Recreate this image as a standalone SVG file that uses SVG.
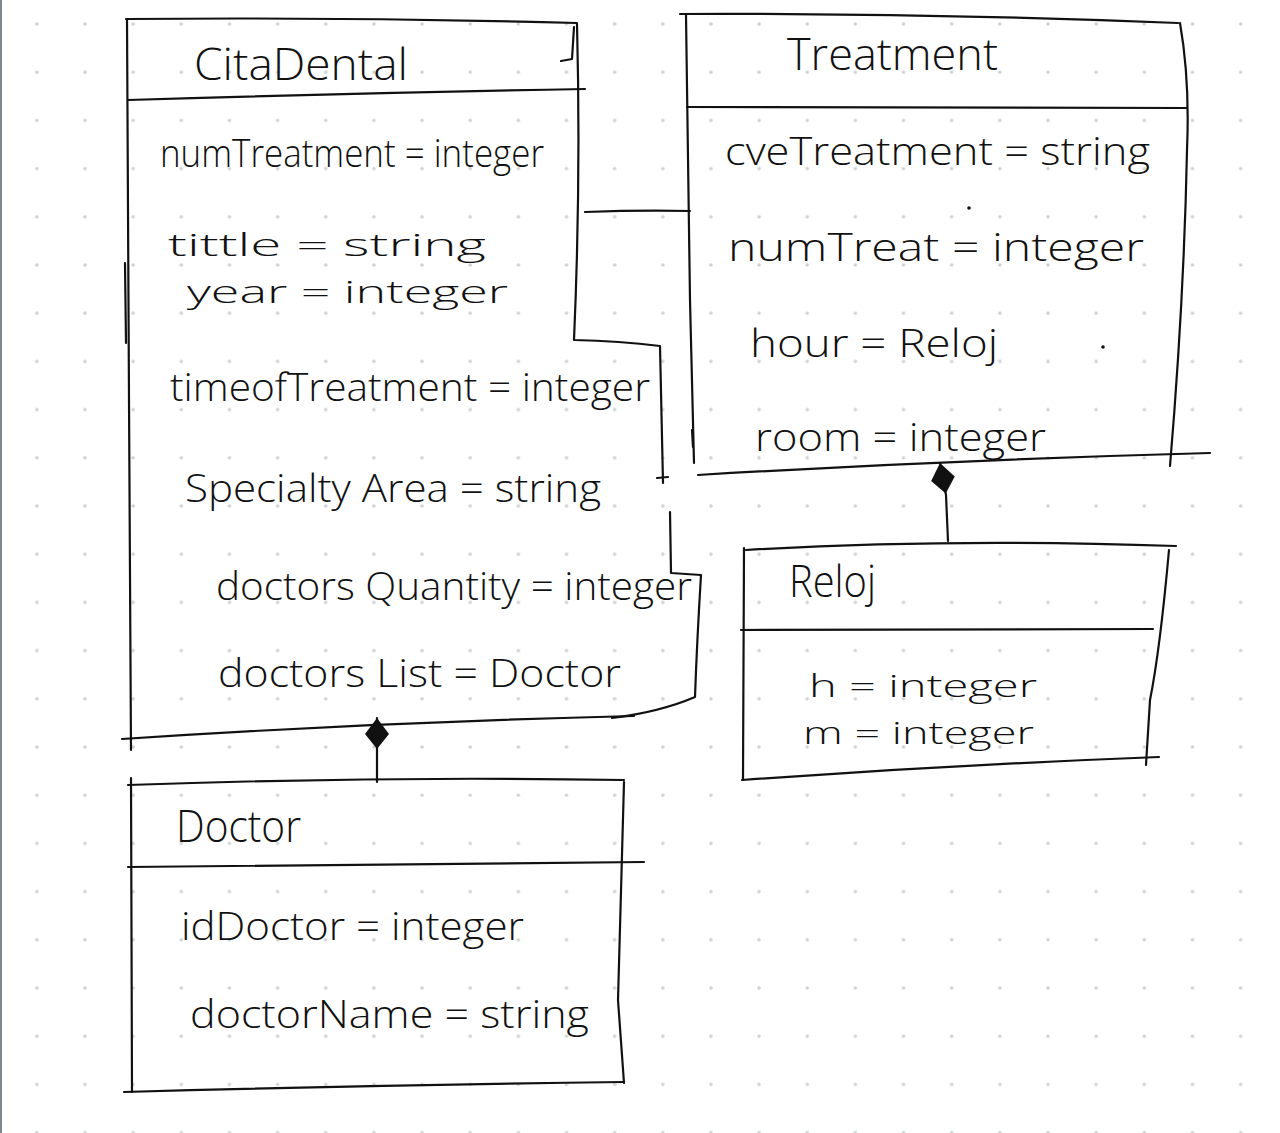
<svg xmlns="http://www.w3.org/2000/svg" width="1280" height="1133" viewBox="0 0 1280 1133">
<defs>
<pattern id="dots" x="85" y="24" width="48.15" height="48.2" patternUnits="userSpaceOnUse">
<circle cx="0" cy="0" r="1.8" fill="#ccd2d2"/>
<circle cx="48.15" cy="0" r="1.8" fill="#ccd2d2"/>
<circle cx="0" cy="48.2" r="1.8" fill="#ccd2d2"/>
<circle cx="48.15" cy="48.2" r="1.8" fill="#ccd2d2"/>
</pattern>
<marker id="diamond" markerUnits="userSpaceOnUse" markerWidth="34" markerHeight="26" viewBox="0 -13 34 26" refX="32" refY="0" orient="auto">
<path d="M1,0 L16,-12 L32,0 L16,12 Z" fill="#111"/>
</marker>
<style>
.ln{fill:none;stroke:#111;stroke-width:2.2;stroke-linecap:round;stroke-linejoin:round}
.t{font-family:"Open Sans","Lato","Liberation Sans",sans-serif;font-weight:300;font-size:38px;fill:#111}
.s{font-family:"Open Sans","Lato","Liberation Sans",sans-serif;font-weight:300;font-size:32px;fill:#111}
.h{font-family:"Open Sans","Lato","Liberation Sans",sans-serif;font-weight:300;font-size:45px;fill:#111}
</style>
</defs>
<rect width="1280" height="1133" fill="#ffffff"/>
<rect x="0" y="0" width="1280" height="1133" fill="url(#dots)"/>
<line x1="1" y1="0" x2="1" y2="1133" stroke="#7f878c" stroke-width="2"/>

<g id="node-citadental">
<path class="ln" d="M126,19 Q350,17 577,23"/>
<path class="ln" d="M574,27 L572,59 L561,61"/>
<path class="ln" d="M128,100 Q360,93 585,89"/>
<path class="ln" d="M127,19 L129,400 L131,750"/>
<path class="ln" d="M125,263 L126,343"/>
<path class="ln" d="M577,24 Q581,180 574,340 Q620,341 660,346 L663,483"/>
<path class="ln" d="M657,478 L668,477"/>
<path class="ln" d="M670,512 L671,573 L701,575 Q697,640 695,697 Q660,712 612,718"/>
<path class="ln" d="M122,739 Q380,722 634,716"/>
<text class="h" x="194" y="80" textLength="214" lengthAdjust="spacingAndGlyphs">CitaDental</text>
<text class="t" x="160" y="167" textLength="384" lengthAdjust="spacingAndGlyphs">numTreatment = integer</text>
<text class="s" x="168" y="256" textLength="318" lengthAdjust="spacingAndGlyphs">tittle = string</text>
<text class="s" x="187" y="303" textLength="321" lengthAdjust="spacingAndGlyphs">year  = integer</text>
<text class="t" x="170" y="401" textLength="480" lengthAdjust="spacingAndGlyphs">timeofTreatment = integer</text>
<text class="t" x="185" y="502" textLength="416" lengthAdjust="spacingAndGlyphs">Specialty Area = string</text>
<text class="t" x="216" y="600" textLength="476" lengthAdjust="spacingAndGlyphs">doctors Quantity = integer</text>
<text class="t" x="218" y="687" textLength="403" lengthAdjust="spacingAndGlyphs">doctors List = Doctor</text>
</g>

<g id="node-treatment">
<path class="ln" d="M680,14 Q930,13 1178,23"/>
<path class="ln" d="M686,15 L690,300 L694,463"/>
<path class="ln" d="M692,430 L693,447"/>
<path class="ln" d="M687,107 L1187,108"/>
<path class="ln" d="M1180,23 Q1190,80 1187,150 Q1184,300 1170,466"/>
<path class="ln" d="M698,475 Q950,460 1210,453"/>
<text class="h" x="787" y="70" textLength="211" lengthAdjust="spacingAndGlyphs">Treatment</text>
<text class="t" x="725" y="165" textLength="425" lengthAdjust="spacingAndGlyphs">cveTreatment = string</text>
<text class="t" x="728" y="261" textLength="416" lengthAdjust="spacingAndGlyphs">numTreat = integer</text>
<circle cx="969" cy="208" r="1.8" fill="#111"/>
<text class="t" x="750" y="357" textLength="248" lengthAdjust="spacingAndGlyphs">hour = Reloj</text>
<circle cx="1103" cy="347" r="1.8" fill="#111"/>
<text class="t" x="755" y="451" textLength="291" lengthAdjust="spacingAndGlyphs">room = integer</text>
</g>

<g id="node-reloj">
<path class="ln" d="M746,550 Q948,538 1176,546"/>
<path class="ln" d="M744,548 L743,780"/>
<path class="ln" d="M741,630 L1153,629"/>
<path class="ln" d="M1169,550 Q1160,650 1150,700 L1146,765"/>
<path class="ln" d="M742,780 Q950,765 1159,757"/>
<text class="h" x="789" y="597" textLength="87" lengthAdjust="spacingAndGlyphs">Reloj</text>
<text class="s" x="809" y="697" textLength="228" lengthAdjust="spacingAndGlyphs">h  = integer</text>
<text class="s" x="803" y="744" textLength="231" lengthAdjust="spacingAndGlyphs">m = integer</text>
</g>

<g id="node-doctor">
<path class="ln" d="M128,785 Q378,776 624,780"/>
<path class="ln" d="M131,778 L132,1092"/>
<path class="ln" d="M128,867 Q380,864 644,862"/>
<path class="ln" d="M624,782 Q620,930 618,1000 L624,1083"/>
<path class="ln" d="M124,1092 Q380,1085 624,1082"/>
<text class="h" x="176" y="842" textLength="125" lengthAdjust="spacingAndGlyphs">Doctor</text>
<text class="t" x="181" y="940" textLength="343" lengthAdjust="spacingAndGlyphs">idDoctor = integer</text>
<text class="t" x="190" y="1028" textLength="399" lengthAdjust="spacingAndGlyphs">doctorName = string</text>
</g>

<g id="connectors">
<path class="ln" d="M585,212 Q640,210 690,211"/>
<path class="ln" d="M377,782 L377,718" marker-end="url(#diamond)"/>
<path class="ln" d="M948,541 L946,495 L940,463" marker-end="url(#diamond)"/>
</g>
</svg>
